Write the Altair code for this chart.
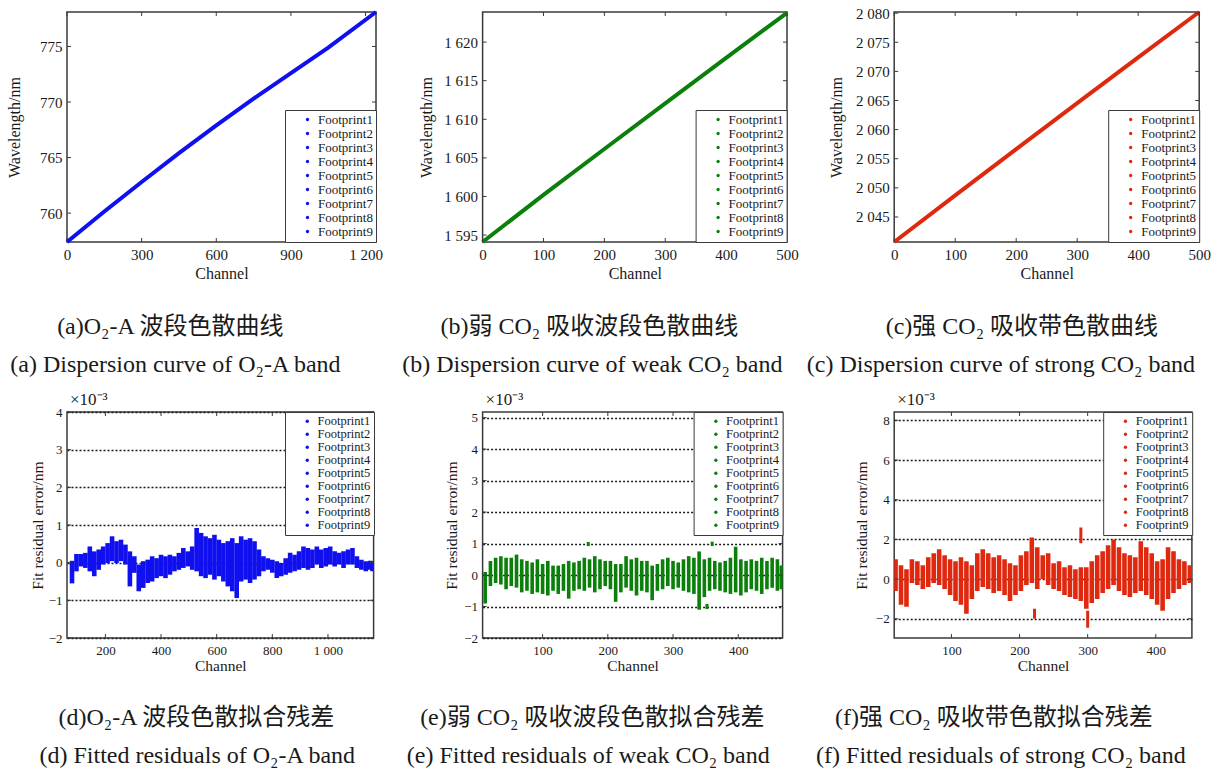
import altair as alt
import pandas as pd

FOOTPRINTS = ["Footprint1", "Footprint2", "Footprint3", "Footprint4", "Footprint5",
              "Footprint6", "Footprint7", "Footprint8", "Footprint9"]

A_CH = [0, 150, 300, 450, 600, 750, 900, 1050, 1242]
A_WL = [757.4, 760.15, 762.8, 765.4, 767.9, 770.3, 772.6, 774.9, 778.1]
B_CH = [0, 100, 200, 300, 400, 500]
B_WL = [1594.1, 1600.2, 1606.15, 1612.05, 1617.95, 1623.8]
C_CH = [0, 100, 200, 300, 400, 500]
C_WL = [2040.7, 2048.7, 2056.65, 2064.55, 2072.4, 2080.2]

D_CH = [80, 96, 112, 128, 144, 160, 176, 192, 208, 224, 240, 256, 272, 288, 304, 320, 336,
        352, 368, 384, 400, 416, 432, 448, 464, 480, 496, 512, 528, 544, 560, 576, 592, 608,
        624, 640, 656, 672, 688, 704, 720, 736, 752, 768, 784, 800, 816, 832, 848, 864, 880,
        896, 912, 928, 944, 960, 976, 992, 1008, 1024, 1040, 1056, 1072, 1088, 1104, 1120,
        1136, 1152, 1160]
D_HI = [0.05, 0.23, 0.23, 0.26, 0.43, 0.30, 0.35, 0.43, 0.52, 0.70, 0.57, 0.61, 0.48, 0.30,
        0.17, -0.05, 0.04, 0.08, 0.17, 0.12, 0.21, 0.17, 0.21, 0.17, 0.26, 0.39, 0.30, 0.43,
        0.92, 0.79, 0.70, 0.65, 0.74, 0.61, 0.52, 0.57, 0.65, 0.52, 0.70, 0.61, 0.65, 0.57,
        0.35, 0.17, 0.12, 0.08, 0.04, -0.01, 0.12, 0.26, 0.21, 0.30, 0.43, 0.39, 0.35, 0.43,
        0.35, 0.39, 0.43, 0.30, 0.26, 0.30, 0.35, 0.39, 0.17, 0.08, 0.04, 0.05, 0.04]
D_LO = [-0.55, -0.23, -0.10, -0.14, -0.23, -0.36, -0.19, -0.05, -0.01, 0.04, -0.01, 0.04,
        -0.05, -0.63, -0.27, -0.76, -0.67, -0.54, -0.50, -0.41, -0.36, -0.41, -0.32, -0.23,
        -0.19, -0.14, -0.10, -0.19, -0.23, -0.36, -0.41, -0.32, -0.45, -0.36, -0.50, -0.63,
        -0.76, -0.94, -0.50, -0.45, -0.54, -0.45, -0.36, -0.23, -0.19, -0.27, -0.41, -0.36,
        -0.32, -0.27, -0.23, -0.19, -0.14, -0.19, -0.14, -0.05, -0.14, -0.10, -0.05, -0.10,
        -0.05, -0.14, -0.05, -0.05, -0.14, -0.19, -0.23, -0.19, -0.23]

E_CH = [12, 20, 28, 36, 44, 52, 60, 68, 76, 84, 92, 100, 108, 116, 124, 132, 140, 148, 156,
        164, 172, 180, 188, 196, 204, 212, 220, 228, 236, 244, 252, 260, 268, 276, 284, 292,
        300, 308, 316, 324, 332, 340, 348, 356, 364, 372, 380, 388, 396, 404, 412, 420, 428,
        436, 444, 452, 460, 466]
E_HI = [0.10, 0.45, 0.55, 0.60, 0.55, 0.55, 0.65, 0.50, 0.45, 0.40, 0.50, 0.35, 0.45, 0.30,
        0.30, 0.35, 0.45, 0.40, 0.45, 0.55, 0.50, 0.60, 0.50, 0.45, 0.45, 0.35, 0.35, 0.60,
        0.50, 0.55, 0.45, 0.45, 0.30, 0.35, 0.50, 0.55, 0.45, 0.40, 0.50, 0.60, 0.55, 0.75,
        0.50, 0.55, 0.45, 0.40, 0.45, 0.55, 0.90, 0.50, 0.45, 0.50, 0.45, 0.55, 0.45, 0.55,
        0.50, 0.30]
E_LO = [-0.90, -0.35, -0.25, -0.30, -0.45, -0.35, -0.40, -0.55, -0.50, -0.60, -0.55, -0.60,
        -0.65, -0.50, -0.60, -0.50, -0.75, -0.50, -0.45, -0.50, -0.40, -0.55, -0.45, -0.35,
        -0.45, -0.85, -0.55, -0.40, -0.50, -0.65, -0.50, -0.55, -0.80, -0.50, -0.45, -0.35,
        -0.45, -0.40, -0.50, -0.55, -0.60, -1.10, -0.70, -0.50, -0.45, -0.50, -0.55, -0.60,
        -0.55, -0.65, -0.55, -0.45, -0.50, -0.60, -0.45, -0.40, -0.50, -0.45]
E_OUT_CH = [170, 352, 360]
E_OUT_LO = [0.92, -1.08, 0.92]
E_OUT_HI = [1.05, -0.92, 1.06]

F_CH = [18, 26, 34, 42, 50, 58, 66, 74, 82, 90, 98, 106, 114, 122, 130, 138, 146, 154, 162,
        170, 178, 186, 194, 202, 210, 218, 226, 234, 242, 250, 258, 266, 274, 282, 290, 298,
        306, 314, 322, 330, 338, 346, 354, 362, 370, 378, 386, 394, 402, 410, 418, 426, 434,
        442, 450]
F_HI = [1.00, 0.70, 0.50, 1.00, 0.90, 0.70, 1.10, 1.30, 1.50, 1.20, 1.00, 0.90, 1.10, 0.90,
        0.70, 1.30, 1.50, 1.30, 1.10, 1.20, 1.00, 0.80, 0.70, 1.20, 1.40, 2.10, 1.60, 1.20,
        1.30, 0.80, 0.90, 0.60, 0.70, 0.50, 0.60, 0.60, 0.90, 1.20, 1.40, 1.70, 2.00, 1.60,
        1.30, 1.20, 1.10, 1.90, 1.60, 1.30, 0.90, 1.00, 1.60, 1.40, 1.00, 0.90, 0.70]
F_LO = [-0.60, -1.30, -1.40, -0.20, -0.30, -0.50, -0.40, -0.20, -0.30, -0.50, -0.80, -1.10,
        -1.30, -1.75, -1.00, -0.60, -0.40, -0.50, -0.70, -0.60, -0.80, -1.10, -0.80, -0.60,
        -0.30, -0.20, -0.50, 0.00, -0.30, -0.50, -0.60, -0.80, -0.90, -1.00, -1.10, -1.50,
        -1.20, -1.00, -0.70, -0.50, -0.30, -0.60, -0.80, -0.90, -0.70, -0.60, -0.80, -1.00,
        -1.30, -1.60, -1.00, -0.70, -0.50, -0.30, -0.20]
F_OUT_CH = [222, 290, 300]
F_OUT_LO = [-2.0, 1.8, -2.45]
F_OUT_HI = [-1.5, 2.6, -1.6]

CAPTIONS = [
    ["(a)O₂-A 波段色散曲线", "(a) Dispersion curve of O₂-A band"],
    ["(b)弱 CO₂ 吸收波段色散曲线", "(b) Dispersion curve of weak CO₂ band"],
    ["(c)强 CO₂ 吸收带色散曲线", "(c) Dispersion curve of strong CO₂ band"],
    ["(d)O₂-A 波段色散拟合残差", "(d) Fitted residuals of O₂-A band"],
    ["(e)弱 CO₂ 吸收波段色散拟合残差", "(e) Fitted residuals of weak CO₂ band"],
    ["(f)强 CO₂ 吸收带色散拟合残差", "(f) Fitted residuals of strong CO₂ band"],
]
EXPONENT = "×10⁻³"

SERIF = "Liberation Serif"
CAPFONT = "Liberation Serif, Noto Sans CJK SC"
INK = "#1a1a1a"
FRAME = "#3a3a3a"
BLUE, GREEN, RED = "#0f0ff0", "#0a7f0a", "#e0280f"
LABEL_EXPR = "replace(format(datum.value, ','), ',', ' ')"


def make_axes(H, xticks, yticks, ytitle, ytitle_x, top):
    lab_fs = 15 if top else 13
    tit_fs = 16 if top else 15.5
    xaxis = alt.Axis(values=xticks, title="Channel", labelExpr=LABEL_EXPR, labelFlush=False,
                     labelOverlap=False, ticks=False, domain=False, grid=False,
                     labelPadding=5 if top else 6, labelFont=SERIF, labelFontSize=lab_fs,
                     labelColor=INK, titleFont=SERIF, titleFontSize=tit_fs,
                     titleFontWeight="normal", titleColor=INK,
                     titleY=31 if top else 27, titleBaseline="middle")
    ykw = dict(values=yticks, title=ytitle, labelExpr=LABEL_EXPR, labelFlush=False,
               labelOverlap=False, ticks=False, domain=False,
               labelPadding=5, labelFont=SERIF, labelFontSize=lab_fs,
               labelColor=INK, titleFont=SERIF, titleFontSize=tit_fs,
               titleFontWeight="normal", titleColor=INK, titleX=ytitle_x, titleY=H / 2,
               titleAngle=270, titleAlign="center", titleBaseline="middle")
    if top:
        yaxis = alt.Axis(grid=False, **ykw)
    else:
        yaxis = alt.Axis(grid=True, gridDash=[2, 2], gridColor="#1a1a1a", gridWidth=1.3,
                         **ykw)
    return xaxis, yaxis


def panel(W, H, xdom, ydom, xticks, yticks, ytitle, ytitle_x, top, color, marks,
          caps, cap_pos, legend_orient):
    xs = alt.Scale(domain=xdom, nice=False, zero=False)
    ys = alt.Scale(domain=ydom, nice=False, zero=False)
    xaxis, yaxis = make_axes(H, xticks, yticks, ytitle, ytitle_x, top)
    layers = [m(xs, ys, xaxis, yaxis) for m in marks]
    xt = pd.DataFrame({"t": xticks})
    yt = pd.DataFrame({"t": yticks})
    tick = dict(color=FRAME, strokeWidth=1)
    for y0, y1 in ((H - 4, H), (0, 4)):
        layers.append(alt.Chart(xt).mark_rule(**tick).encode(
            x=alt.X("t:Q", scale=xs, axis=xaxis), y=alt.value(y0), y2=alt.value(y1)))
    for x0, x1 in ((0, 4), (W - 4, W)):
        layers.append(alt.Chart(yt).mark_rule(**tick).encode(
            y=alt.Y("t:Q", scale=ys, axis=yaxis), x=alt.value(x0), x2=alt.value(x1)))
    layers.append(alt.Chart(pd.DataFrame({"fp": FOOTPRINTS})).mark_circle(
        size=10, opacity=0).encode(
        x=alt.value(W - 20), y=alt.value(H - 20 if top else 20),
        color=alt.Color("fp:N", scale=alt.Scale(domain=FOOTPRINTS, range=[color] * 9),
                        legend=alt.Legend(orient=legend_orient, offset=0, title=None,
                                          fillColor="white", strokeColor=FRAME, padding=3,
                                          labelFont=SERIF,
                                          labelFontSize=13 if top else 12.5,
                                          labelColor=INK, symbolType="circle",
                                          symbolSize=11, symbolOpacity=1,
                                          symbolStrokeWidth=0, rowPadding=0,
                                          symbolOffset=13, labelOffset=4))))
    if not top:
        layers.append(alt.Chart(pd.DataFrame({"t": [EXPONENT]})).mark_text(
            font=SERIF, fontSize=17, align="left", baseline="middle", color=INK).encode(
            text="t:N", x=alt.value(3), y=alt.value(-12)))
    for txt, (cx, cy, al) in zip(caps, cap_pos):
        layers.append(alt.Chart(pd.DataFrame({"t": [txt]})).mark_text(
            font=CAPFONT, fontSize=24, align=al, baseline="middle", color=INK).encode(
            text="t:N", x=alt.value(cx), y=alt.value(cy)))
    return alt.layer(*layers).properties(width=W, height=H)


def line_layer(chs, wls, color):
    df = pd.DataFrame({"ch": chs, "wl": wls})

    def build(xs, ys, xaxis, yaxis):
        return alt.Chart(df).mark_line(color=color, strokeWidth=4).encode(
            x=alt.X("ch:Q", scale=xs, axis=xaxis), y=alt.Y("wl:Q", scale=ys, axis=yaxis))
    return build


def band_layer(chs, lo, hi, color, sw):
    df = pd.DataFrame({"ch": chs, "lo": lo, "hi": hi})

    def build(xs, ys, xaxis, yaxis):
        return alt.Chart(df).mark_rule(color=color, strokeWidth=sw, clip=True).encode(
            x=alt.X("ch:Q", scale=xs, axis=xaxis), y=alt.Y("lo:Q", scale=ys, axis=yaxis),
            y2="hi:Q")
    return build


pa = panel(309, 230, [0, 1242], [757.4, 778.1], [0, 300, 600, 900, 1200],
           [760, 765, 770, 775], "Wavelength/nm", -53, True, BLUE,
           [line_layer(A_CH, A_WL, BLUE)], CAPTIONS[0],
           [(103.3, 315, "center"), (-56.7, 353, "left")], "bottom-right")
pb = panel(304.4, 230, [0, 500], [1594.1, 1623.9], [0, 100, 200, 300, 400, 500],
           [1595, 1600, 1605, 1610, 1615, 1620], "Wavelength/nm", -56, True, GREEN,
           [line_layer(B_CH, B_WL, GREEN)], CAPTIONS[1],
           [(106.7, 315, "center"), (109.7, 353, "center")], "bottom-right")
pc = panel(305, 230, [0, 500], [2040.7, 2080.2], [0, 100, 200, 300, 400, 500],
           [2045, 2050, 2055, 2060, 2065, 2070, 2075, 2080], "Wavelength/nm", -58, True, RED,
           [line_layer(C_CH, C_WL, RED)], CAPTIONS[2],
           [(127.7, 315, "center"), (106.7, 353, "center")], "bottom-right")
pd_ = panel(306.6, 226, [62, 1164], [-2, 4], [200, 400, 600, 800, 1000],
            [-2, -1, 0, 1, 2, 3, 4], "Fit residual error/nm", -30, False, BLUE,
            [band_layer(D_CH, D_LO, D_HI, BLUE, 4.6)], CAPTIONS[3],
            [(129.3, 306, "center"), (130.3, 344, "center")], "top-right")
pe = panel(300, 226, [8, 468], [-2, 5.18], [100, 200, 300, 400],
           [-2, -1, 0, 1, 2, 3, 4, 5], "Fit residual error/nm", -31, False, GREEN,
           [band_layer(E_CH, E_LO, E_HI, GREEN, 3.6),
            band_layer(E_OUT_CH, E_OUT_LO, E_OUT_HI, GREEN, 3)], CAPTIONS[4],
           [(109.7, 306, "center"), (105.7, 344, "center")], "top-right")
pf = panel(297.7, 226, [16, 453], [-2.97, 8.42], [100, 200, 300, 400],
           [-2, 0, 2, 4, 6, 8], "Fit residual error/nm", -33, False, RED,
           [band_layer(F_CH, F_LO, F_HI, RED, 4.6),
            band_layer(F_OUT_CH, F_OUT_LO, F_OUT_HI, RED, 3)], CAPTIONS[5],
           [(99.7, 306, "center"), (106.7, 344, "center")], "top-right")

chart = alt.concat(pa, pb, pc, pd_, pe, pf, columns=3,
                   spacing={"row": 170, "column": 106.6}, bounds="flush", align="each")
chart = chart.resolve_scale(x="independent", y="independent", color="independent")
chart = chart.resolve_legend(color="independent")
chart = chart.properties(padding={"left": 5, "top": 3, "right": 2, "bottom": 2},
                         background="white")
chart = chart.configure_view(stroke=FRAME, strokeWidth=1.5)

chart.save("out.html", embed_options={"renderer": "svg", "actions": False})
